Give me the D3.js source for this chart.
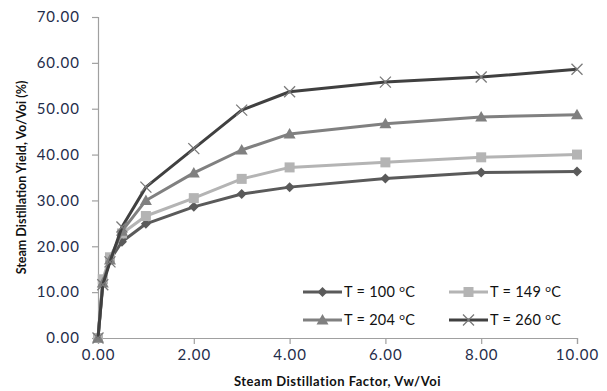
<!DOCTYPE html>
<html><head><meta charset="utf-8">
<script src="https://cdn.jsdelivr.net/npm/d3@7"></script>
<style>body{margin:0;background:#fff;} svg{display:block;}</style>
</head><body>
<svg id="c" width="607" height="391"></svg>
<script>
const xValues = [0, 0.1, 0.25, 0.5, 1, 2, 3, 4, 6, 8, 10];
const seriesNames = ["T = 100", "T = 149", "T = 204", "T = 260"];
const t100 = [0, 12.0, 17.0, 21.0, 24.9, 28.6, 31.4, 32.9, 34.8, 36.1, 36.3];
const t149 = [0, 12.8, 17.6, 22.8, 26.6, 30.5, 34.7, 37.2, 38.3, 39.4, 40.0];
const t204 = [0, 12.0, 17.0, 23.3, 30.0, 36.0, 41.0, 44.5, 46.7, 48.2, 48.7];
const t260 = [0, 11.6, 16.6, 24.2, 32.9, 41.3, 49.7, 53.7, 55.8, 56.9, 58.6];
const xTicks = [0, 2, 4, 6, 8, 10];
const yTicks = [0, 10, 20, 30, 40, 50, 60, 70];

const svg = d3.select("#c");
const font = "Lato, 'Open Sans', sans-serif";
const L = 98, R = 577, T = 17, B = 338;
const x = d3.scaleLinear().domain([0, 10]).range([L, R]);
const y = d3.scaleLinear().domain([0, 70]).range([B, T]);

// axes
const xAxis = svg.append("g").attr("transform", `translate(0,${B})`)
  .call(d3.axisBottom(x).tickValues(xTicks).tickFormat(d3.format(".2f")).tickSizeOuter(0).tickSize(6).tickPadding(5));
const yAxis = svg.append("g").attr("transform", `translate(${L},0)`)
  .call(d3.axisLeft(y).tickValues(yTicks).tickFormat(d3.format(".2f")).tickSizeOuter(0).tickSize(6).tickPadding(12));
[xAxis, yAxis].forEach(a => {
  a.select(".domain").attr("stroke", "#a0a0a0").attr("stroke-width", 1.2);
  a.selectAll(".tick line").attr("stroke", "#a0a0a0").attr("stroke-width", 1.2);
  a.selectAll(".tick text").attr("fill", "#1f2d4a").style("font-family", font).style("font-size", "15px").style("letter-spacing", "1px");
});

// titles
svg.append("text").attr("x", (L + R) / 2).attr("y", 386).attr("text-anchor", "middle")
  .style("font-family", font).style("font-size", "13px").style("font-weight", "bold").style("letter-spacing", "0.5px").attr("fill", "#111")
  .text("Steam Distillation  Factor, Vw/Voi");
svg.append("text").attr("transform", `translate(26,${(T + B) / 2}) rotate(-90)`).attr("text-anchor", "middle")
  .style("font-family", font).style("font-size", "12.5px").style("font-weight", "bold").attr("fill", "#111")
  .text("Steam Distillation  Yield, Vo/Voi (%)");

const series = [
  {name: seriesNames[0], vals: t100, line: "#5a5a5a", mk: "diamond", mc: "#5a5a5a"},
  {name: seriesNames[1], vals: t149, line: "#b4b4b4", mk: "square", mc: "#b4b4b4"},
  {name: seriesNames[2], vals: t204, line: "#808080", mk: "triangle", mc: "#808080"},
  {name: seriesNames[3], vals: t260, line: "#404040", mk: "x", mc: "#7a7a7a"}
];

function marker(g, type, cx, cy, c) {
  if (type === "diamond") {
    g.append("path").attr("d", `M${cx},${cy-5}L${cx+5},${cy}L${cx},${cy+5}L${cx-5},${cy}Z`).attr("fill", c);
  } else if (type === "square") {
    g.append("rect").attr("x", cx-5).attr("y", cy-5).attr("width", 10).attr("height", 10).attr("fill", c);
  } else if (type === "triangle") {
    g.append("path").attr("d", `M${cx},${cy-6}L${cx+6},${cy+4.5}L${cx-6},${cy+4.5}Z`).attr("fill", c);
  } else {
    g.append("path").attr("d", `M${cx-5.5},${cy-5.5}L${cx+5.5},${cy+5.5}M${cx-5.5},${cy+5.5}L${cx+5.5},${cy-5.5}`)
      .attr("stroke", c).attr("stroke-width", 1.3).attr("fill", "none");
  }
}

const line = d3.line().x(d => x(d[0])).y(d => y(d[1])).curve(d3.curveLinear);
series.forEach(s => {
  const pts = xValues.map((xv, i) => [xv, s.vals[i]]);
  const g = svg.append("g");
  g.append("path").attr("d", line(pts)).attr("fill", "none").attr("stroke", s.line).attr("stroke-width", 3).attr("stroke-linejoin", "round");
  pts.forEach(p => marker(g, s.mk, x(p[0]), y(p[1]), s.mc));
});

// legend
const legPos = [[303, 292], [449, 292], [303, 320], [449, 320]];
series.forEach((s, i) => {
  const [lx, ly] = legPos[i];
  const g = svg.append("g");
  g.append("line").attr("x1", lx).attr("x2", lx + 39).attr("y1", ly).attr("y2", ly).attr("stroke", s.line).attr("stroke-width", 3);
  marker(g, s.mk, lx + 19.5, ly, s.mc);
  const t = g.append("text").attr("x", lx + 41).attr("y", ly + 5).style("font-family", font).style("font-size", "14.5px").style("letter-spacing", "0.3px").attr("fill", "#111");
  t.append("tspan").text(s.name + " ");
  t.append("tspan").attr("dy", -5).style("font-size", "10px").text("o");
  t.append("tspan").attr("dy", 5).text("C");
});
</script>
</body></html>
